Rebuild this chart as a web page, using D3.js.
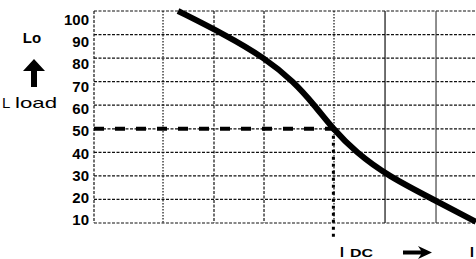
<!DOCTYPE html>
<html>
<head>
<meta charset="utf-8">
<script src="https://cdn.jsdelivr.net/npm/d3@7/dist/d3.min.js"></script>
<style>
  body { margin: 0; background: #fff; }
  svg { display: block; }
  text { font-family: "Liberation Sans", Arial, sans-serif; fill: #000; }
  .tick { font-size: 15px; font-weight: bold; }
</style>
</head>
<body>
<div id="chart"></div>
<script>

// values
var yTicks = [10, 20, 30, 40, 50, 60, 70, 80, 90, 100];
var xGrid = [0, 1.355, 2.356, 3.338, 4.712, 5.714, 6.715];   // vertical grid lines (current units)
var curveI = [1.65, 2.57, 3.36, 3.92, 4.33, 4.69, 5.14, 5.77, 6.66, 7.5];
var curveL = [100, 90, 80, 70, 60, 50, 40, 30, 20, 10.5];
var opI = 4.7;   // I DC
var opL = 50;

var width = 476;
var height = 259;

var svg = d3.select("#chart")
  .append("svg")
  .attr("width", width)
  .attr("height", height);

var xScale = d3.scaleLinear().domain([0, 7.5]).range([94, 476]);
var yScale = d3.scaleLinear().domain([10, 100]).range([223, 11]);
// tick labels sit on a slightly tighter spacing than the grid
var yLabel = d3.scaleLinear().domain([10, 100]).range([220, 19.5]);

// horizontal grid
svg.selectAll(".hgrid")
  .data(yTicks)
  .enter()
  .append("line")
  .attr("class", "hgrid")
  .attr("x1", xScale(0))
  .attr("x2", xScale(7.5))
  .attr("y1", function(d) { return yScale(d); })
  .attr("y2", function(d) { return yScale(d); })
  .attr("stroke", "#111")
  .attr("stroke-width", 1.2)
  .attr("stroke-dasharray", "3,1.5");

// vertical grid
svg.selectAll(".vgrid")
  .data(xGrid)
  .enter()
  .append("line")
  .attr("class", "vgrid")
  .attr("x1", function(d) { return xScale(d); })
  .attr("x2", function(d) { return xScale(d); })
  .attr("y1", yScale(100))
  .attr("y2", yScale(10))
  .attr("stroke", function(d, i) { return i == 6 ? "#444" : "#111"; })
  .attr("stroke-width", 1.2)
  .attr("stroke-dasharray", function(d, i) {
    if (i == 5 || i == 6) return null;
    if (i == 1 || i == 4) return "1.5,1.5";
    return "3,1.5";
  });

// y tick labels
svg.selectAll(".tick")
  .data(yTicks)
  .enter()
  .append("text")
  .attr("class", "tick")
  .attr("x", 89)
  .attr("y", function(d) { return yLabel(d); })
  .attr("dy", "0.36em")
  .attr("text-anchor", "end")
  .text(function(d) { return d; });

// operating point guides
svg.append("line")
  .attr("x1", xScale(0))
  .attr("x2", xScale(opI))
  .attr("y1", yScale(opL))
  .attr("y2", yScale(opL))
  .attr("stroke", "#000")
  .attr("stroke-width", 4)
  .attr("stroke-dasharray", "10,11");

svg.append("line")
  .attr("x1", xScale(opI))
  .attr("x2", xScale(opI))
  .attr("y1", yScale(opL))
  .attr("y2", yScale(10) + 14)
  .attr("stroke", "#000")
  .attr("stroke-width", 3)
  .attr("stroke-dasharray", "3,4");

// load curve
var line = d3.line()
  .x(function(d, i) { return xScale(curveI[i]); })
  .y(function(d) { return yScale(d); })
  .curve(d3.curveBasis);

svg.append("path")
  .datum(curveL)
  .attr("d", line)
  .attr("fill", "none")
  .attr("stroke", "#000")
  .attr("stroke-width", 6);

// left labels
svg.append("text")
  .attr("x", 32)
  .attr("y", 43)
  .attr("text-anchor", "middle")
  .style("font-size", "15px")
  .style("font-weight", "bold")
  .text("Lo");

svg.append("path")
  .attr("d", "M34,59 L45,71 L37,71 L37,87 L31,87 L31,71 L23,71 Z")
  .attr("fill", "#000");

svg.append("text")
  .attr("x", 2)
  .attr("y", 108)
  .style("font-size", "15px")
  .text("L");

svg.append("text")
  .attr("x", 15)
  .attr("y", 108)
  .attr("textLength", 42)
  .attr("lengthAdjust", "spacingAndGlyphs")
  .style("font-size", "15px")
  .text("load");

// bottom labels
svg.append("text")
  .attr("x", 340)
  .attr("y", 257)
  .style("font-size", "14px")
  .style("font-weight", "bold")
  .text("I");

svg.append("text")
  .attr("x", 350)
  .attr("y", 257)
  .attr("textLength", 23)
  .attr("lengthAdjust", "spacingAndGlyphs")
  .style("font-size", "11.5px")
  .style("font-weight", "bold")
  .text("DC");

svg.append("path")
  .attr("d", "M403,250.5 L421,250.5 L418,246 L432,252.5 L418,259 L421,254.5 L403,254.5 Z")
  .attr("fill", "#000");

svg.append("text")
  .attr("x", 470)
  .attr("y", 257)
  .style("font-size", "14px")
  .style("font-weight", "bold")
  .text("I");

</script>
</body>
</html>
